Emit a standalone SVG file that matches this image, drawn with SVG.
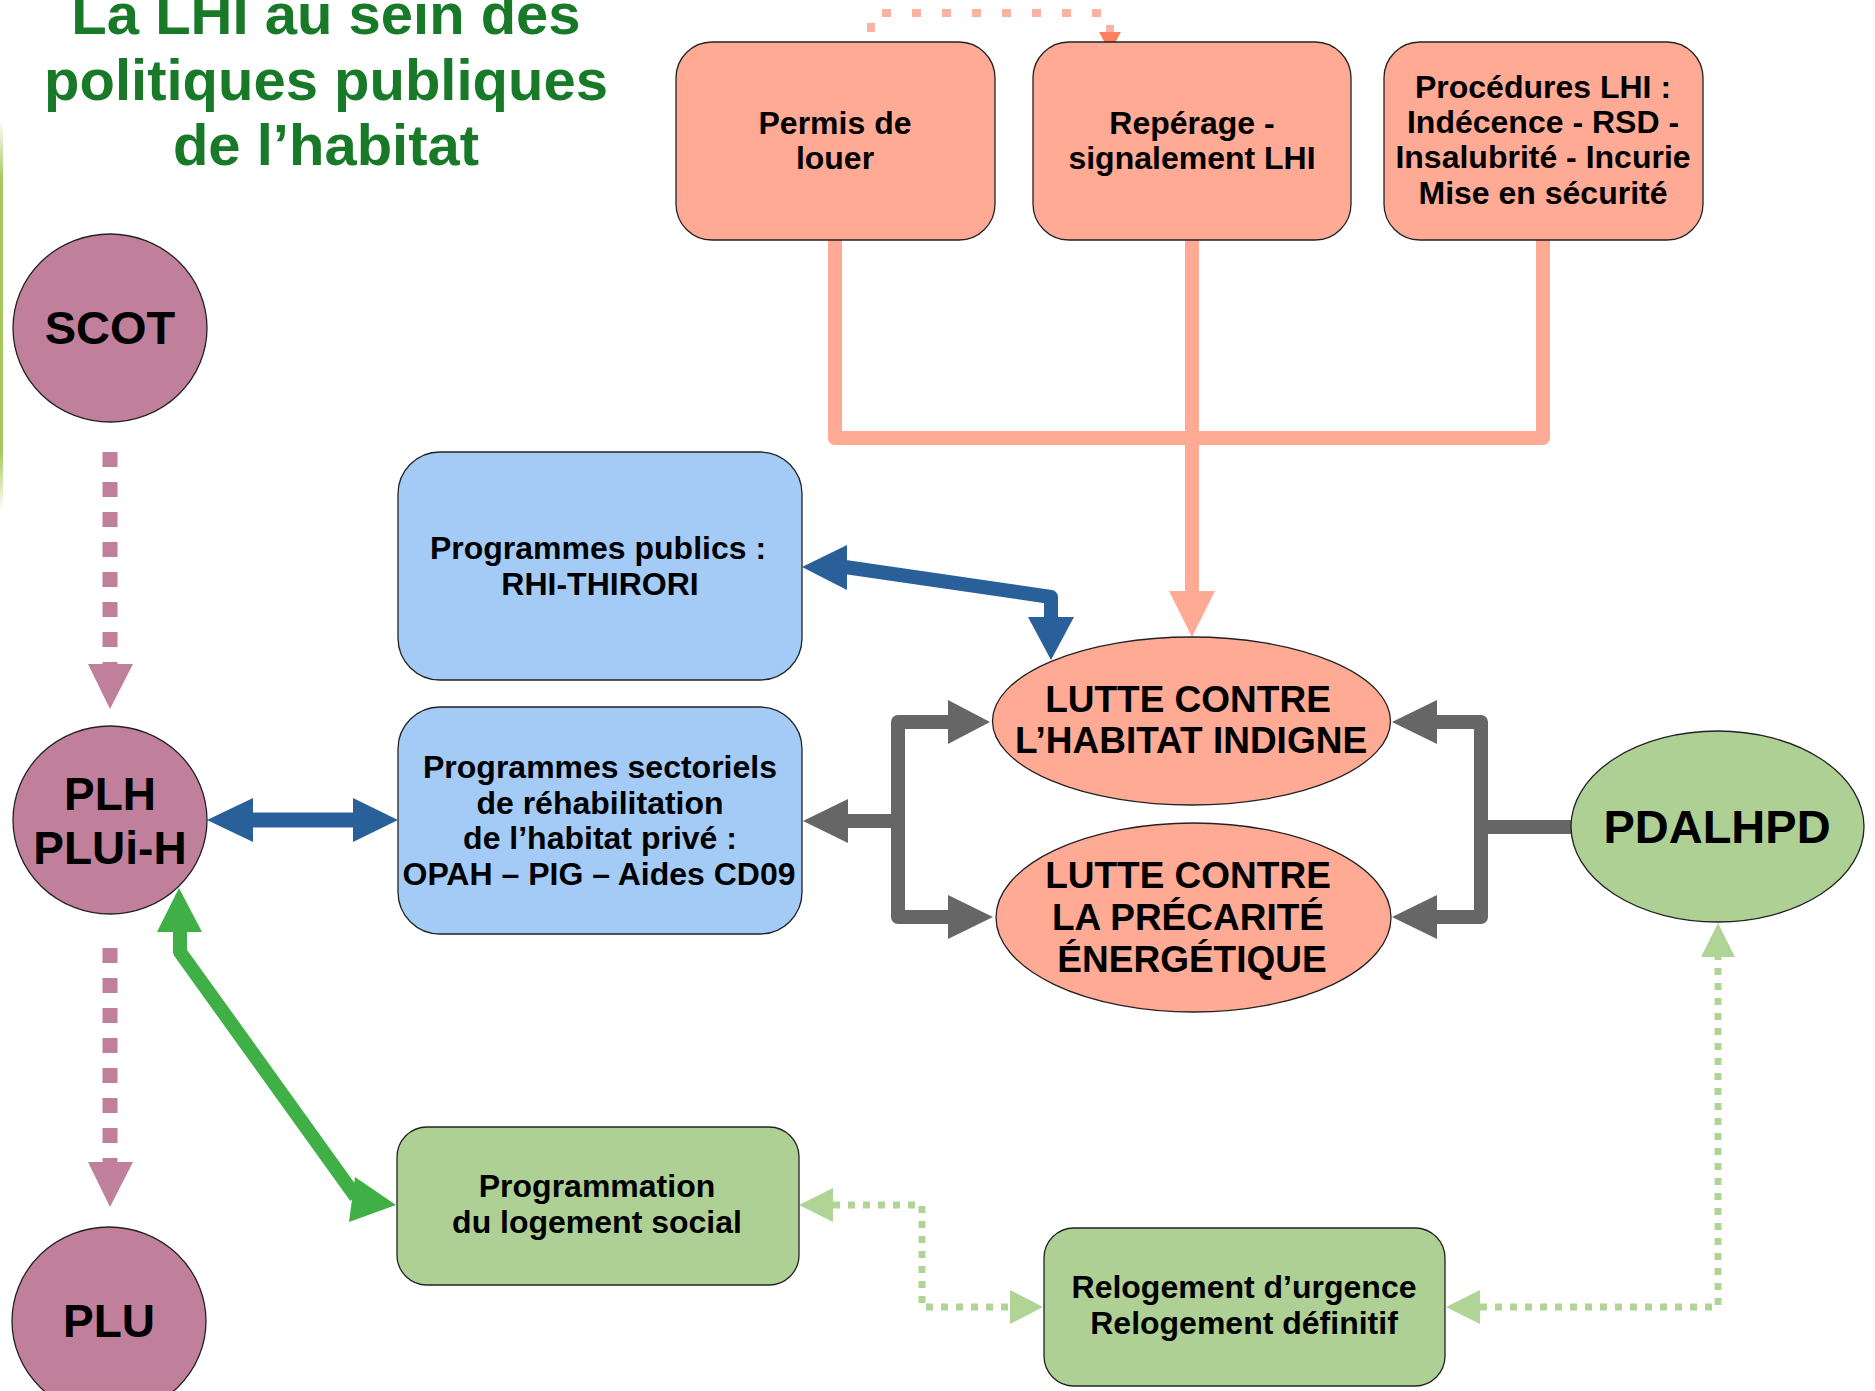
<svg xmlns="http://www.w3.org/2000/svg" width="1875" height="1391" viewBox="0 0 1875 1391">
<style>
text{font-family:"Liberation Sans",Arial,sans-serif;font-weight:bold;fill:#000;text-anchor:middle}
.title{font-size:58px;fill:#187a28}
.t32{font-size:32px}
.t36{font-size:37px}
.t46{font-size:46px}
.t47{font-size:47px}
.sal{fill:#ffaa95;stroke:#222;stroke-width:1.3}
.blu{fill:#a3cbf5;stroke:#222;stroke-width:1.3}
.grn{fill:#afd095;stroke:#222;stroke-width:1.3}
.mau{fill:#c0809b;stroke:#222;stroke-width:1.3}
.ln{fill:none;stroke-linejoin:round}
</style>
<defs>
<linearGradient id="edge" x1="0" y1="0" x2="0" y2="1">
<stop offset="0" stop-color="#9cc24a" stop-opacity="0"/>
<stop offset="0.15" stop-color="#9cc24a" stop-opacity="0.9"/>
<stop offset="0.85" stop-color="#9cc24a" stop-opacity="0.9"/>
<stop offset="1" stop-color="#9cc24a" stop-opacity="0"/>
</linearGradient>
</defs>
<rect x="0" y="120" width="3" height="390" fill="url(#edge)"/>

<g id="title">
<text class="title" x="326" y="34">La LHI au sein des</text>
<text class="title" x="326" y="100">politiques publiques</text>
<text class="title" x="326" y="165">de l’habitat</text>
</g>

<g id="connectors">
<!-- salmon -->
<g stroke="#ffaa95" stroke-width="14" class="ln">
<path d="M835,240 V438 H1192 V592"/>
<path d="M1543,240 V438 H1192"/>
<path d="M1192,240 V592"/>
</g>
<polygon points="1169,591 1215,591 1192,637" fill="#ffaa95"/>
<!-- top dotted -->
<path d="M871,32 V13 H1110 V32" class="ln" stroke="#fcb2a0" stroke-width="8" stroke-dasharray="9 21"/>
<polygon points="1099,32 1121,32 1110,52" fill="#ff7f5e"/>
<!-- mauve dashed -->
<path d="M110,452 V664" stroke="#c0809b" stroke-width="15" stroke-dasharray="15 15" fill="none"/>
<polygon points="88,664 133,664 110,709" fill="#c0809b"/>
<path d="M110,948 V1162" stroke="#c0809b" stroke-width="15" stroke-dasharray="15 15" fill="none"/>
<polygon points="88,1162 133,1162 110,1207" fill="#c0809b"/>
<!-- blue -->
<path d="M250,820 H356" stroke="#2a6099" stroke-width="15" fill="none"/>
<polygon points="207,820 253,798 253,842" fill="#2a6099"/>
<polygon points="398,820 353,798 353,842" fill="#2a6099"/>
<path d="M845,567 L1051,597 V620" class="ln" stroke="#2a6099" stroke-width="14"/>
<polygon points="802,567 847,545 847,590" fill="#2a6099"/>
<polygon points="1028,617 1074,617 1051,660" fill="#2a6099"/>
<!-- gray -->
<g stroke="#666" stroke-width="14" class="ln">
<path d="M845,821 H898 V722 H950"/>
<path d="M898,821 V917 H950"/>
<path d="M1571,827 H1481 V722 H1435"/>
<path d="M1481,827 V917 H1435"/>
</g>
<polygon points="803,821 848,799 848,843" fill="#666"/>
<polygon points="990,722 948,700 948,744" fill="#666"/>
<polygon points="993,917 948,895 948,939" fill="#666"/>
<polygon points="1392,722 1437,700 1437,744" fill="#666"/>
<polygon points="1392,917 1437,895 1437,939" fill="#666"/>
<!-- green -->
<path d="M180,930 V952 L356,1197" class="ln" stroke="#3faf46" stroke-width="14"/>
<polygon points="179,888 157,932 202,932" fill="#3faf46"/>
<polygon points="355,1177 349,1222 396,1205" fill="#3faf46"/>
<!-- green dotted -->
<g stroke="#b0d396" stroke-width="7" stroke-dasharray="7 8" fill="none">
<path d="M833,1205 H922 V1307 H1010"/>
<path d="M1480,1307 H1718 V957"/>
</g>
<polygon points="799,1205 833,1188 833,1222" fill="#b0d396"/>
<polygon points="1043,1307 1010,1290 1010,1324" fill="#b0d396"/>
<polygon points="1446,1307 1480,1290 1480,1324" fill="#b0d396"/>
<polygon points="1718,923 1701,957 1735,957" fill="#b0d396"/>
</g>

<g id="permis">
<rect class="sal" x="676" y="42" width="319" height="198" rx="36"/>
<text class="t32" x="835" y="134">Permis de</text>
<text class="t32" x="835" y="169">louer</text>
</g>
<g id="reperage">
<rect class="sal" x="1033" y="42" width="318" height="198" rx="36"/>
<text class="t32" x="1192" y="134">Repérage -</text>
<text class="t32" x="1192" y="169">signalement LHI</text>
</g>
<g id="procedures">
<rect class="sal" x="1384" y="42" width="319" height="198" rx="36"/>
<text class="t32" x="1543" y="98">Procédures LHI :</text>
<text class="t32" x="1543" y="133">Indécence - RSD -</text>
<text class="t32" x="1543" y="168">Insalubrité - Incurie</text>
<text class="t32" x="1543" y="204">Mise en sécurité</text>
</g>

<g id="scot">
<ellipse class="mau" cx="110" cy="328" rx="97" ry="94"/>
<text class="t47" x="110" y="344">SCOT</text>
</g>
<g id="plh">
<ellipse class="mau" cx="110" cy="820" rx="97" ry="94"/>
<text class="t46" x="110" y="810">PLH</text>
<text class="t46" x="110" y="864">PLUi-H</text>
</g>
<g id="plu">
<ellipse class="mau" cx="109" cy="1321" rx="97" ry="94"/>
<text class="t46" x="109" y="1337">PLU</text>
</g>

<g id="programmes-publics">
<rect class="blu" x="398" y="452" width="404" height="228" rx="42"/>
<text class="t32" x="598" y="559">Programmes publics :</text>
<text class="t32" x="600" y="595">RHI-THIRORI</text>
</g>
<g id="programmes-sectoriels">
<rect class="blu" x="398" y="707" width="404" height="227" rx="42"/>
<text class="t32" x="600" y="778">Programmes sectoriels</text>
<text class="t32" x="600" y="814">de réhabilitation</text>
<text class="t32" x="600" y="849">de l’habitat privé :</text>
<text class="t32" x="599" y="885">OPAH – PIG – Aides CD09</text>
</g>

<g id="lhi">
<ellipse class="sal" cx="1191.5" cy="721" rx="199" ry="84"/>
<text class="t36" x="1188" y="712">LUTTE CONTRE</text>
<text class="t36" x="1191" y="753">L’HABITAT INDIGNE</text>
</g>
<g id="precarite">
<ellipse class="sal" cx="1193.5" cy="917.5" rx="197.5" ry="94.5"/>
<text class="t36" x="1188" y="888">LUTTE CONTRE</text>
<text class="t36" x="1188" y="930">LA PRÉCARITÉ</text>
<text class="t36" x="1192" y="972">ÉNERGÉTIQUE</text>
</g>
<g id="pdalhpd">
<ellipse class="grn" cx="1717.5" cy="826.5" rx="146.5" ry="95.5"/>
<text class="t47" x="1717" y="843">PDALHPD</text>
</g>

<g id="programmation">
<rect class="grn" x="397" y="1127" width="402" height="158" rx="30"/>
<text class="t32" x="597" y="1197">Programmation</text>
<text class="t32" x="597" y="1233">du logement social</text>
</g>
<g id="relogement">
<rect class="grn" x="1044" y="1228" width="401" height="158" rx="30"/>
<text class="t32" x="1244" y="1298">Relogement d’urgence</text>
<text class="t32" x="1244" y="1334">Relogement définitif</text>
</g>
</svg>
